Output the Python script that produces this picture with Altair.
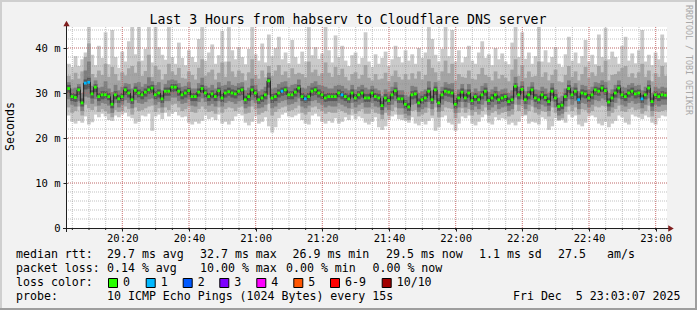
import json
import altair as alt
import pandas as pd

FONT = "DejaVu Sans Mono"
OX, OY = 67, 27  # plot origin inside the 697x310 canvas

# ---------------- texts ----------------
title_text = "Last 3 Hours from habserv to Cloudflare DNS server"
y_title = "Seconds"
watermark = "RRDTOOL / TOBI OETIKER"
x_major = ["20:20", "20:40", "21:00", "21:20", "21:40", "22:00", "22:20", "22:40", "23:00"]
y_ticks = [0, 10, 20, 30, 40]
y_labels = ["0\u00a0\u00a0", "10 m", "20 m", "30 m", "40 m"]
y_max = 44.67

rtt_head = "median rtt:"
rtt_stats = ["29.7 ms avg", "32.7 ms max", "26.9 ms min", "29.5 ms now", "1.1 ms sd", "27.5", "am/s"]
loss_head = "packet loss:"
loss_stats = ["0.14 % avg", "10.00 % max", "0.00 % min", "0.00 % now"]
color_head = "loss color:"
loss_labels = ["0", "1", "2", "3", "4", "5", "6-9", "10/10"]
loss_colors = ["#26ff00", "#00b8ff", "#0059ff", "#7e00ff", "#ff00ff", "#ff5500", "#ff0000", "#a10000"]
probe_head = "probe:"
probe_text = "10 ICMP Echo Pings (1024 Bytes) every 15s"
date_text = "Fri Dec\u00a0\u00a05 23:03:07 2025"

# ---------------- data: one value per minute, 20:03:24 .. 23:03:24 ----------------
med = [31.0, 29.2, 29.0, 30.7, 27.8, 32.2, 32.4, 29.8, 31.3, 29.2,
       29.6, 29.6, 29.2, 27.5, 29.6, 28.7, 29.2, 30.7, 30.0, 28.5,
       30.6, 30.0, 29.6, 30.2, 30.7, 31.1, 29.6, 30.0, 28.7, 30.4,
       30.4, 31.3, 31.3, 30.4, 29.6, 30.0, 30.5, 29.2, 29.2, 30.2,
       31.0, 30.0, 29.2, 29.8, 29.2, 30.5, 28.9, 30.0, 30.3, 30.0,
       29.8, 30.4, 30.7, 28.5, 29.2, 30.7, 30.0, 28.5, 28.9, 29.6,
       32.7, 28.9, 29.2, 30.0, 30.4, 30.7, 29.6, 29.6, 30.2, 31.1,
       29.2, 28.7, 29.2, 30.4, 30.7, 30.0, 29.6, 28.9, 29.2, 29.2,
       29.2, 30.0, 29.6, 29.2, 28.7, 30.0, 28.9, 29.6, 30.0, 28.9,
       28.9, 30.0, 29.2, 28.9, 27.2, 28.9, 28.3, 29.6, 30.5, 28.7,
       28.7, 27.5, 26.9, 29.6, 29.8, 27.8, 28.5, 28.9, 30.4, 28.5,
       30.7, 27.8, 29.6, 30.4, 30.2, 30.0, 27.5, 28.9, 30.2, 28.9,
       30.0, 28.3, 29.2, 28.5, 29.6, 30.4, 28.3, 28.9, 29.6, 28.5,
       28.9, 29.2, 28.1, 28.5, 31.5, 29.6, 30.8, 28.5, 29.6, 30.7,
       28.9, 28.5, 29.6, 29.0, 28.1, 30.4, 28.9, 27.0, 27.3, 29.2,
       31.0, 29.6, 30.4, 28.5, 30.0, 29.8, 28.9, 29.6, 30.7, 30.4,
       31.1, 30.5, 28.0, 28.9, 30.0, 31.1, 29.6, 29.2, 30.0, 30.4,
       29.8, 30.0, 28.7, 29.6, 31.1, 28.1, 29.6, 29.2, 29.6, 29.5]

loss_steps = [5, 6, 64, 71, 82, 153, 172]  # minutes with 1 of 10 pings lost

p10 = [36.5, 35.8, 38.2, 36.0, 37.5, 39.0, 45.0, 38.5, 36.2, 40.5,
       37.8, 43.5, 36.4, 44.0, 38.0, 35.6, 39.2, 37.0, 41.5, 45.0,
       38.6, 45.0, 37.2, 39.8, 45.0, 36.8, 45.0, 40.2, 38.5, 37.4,
       45.0, 38.0, 36.5, 41.2, 37.8, 36.2, 39.5, 38.0, 36.9, 42.0,
       45.0, 37.2, 39.0, 40.8, 36.5, 38.4, 43.8, 37.0, 45.0, 39.5,
       37.5, 40.2, 38.0, 36.4, 39.8, 45.0, 38.6, 37.2, 41.0, 36.8,
       43.0, 38.2, 40.0, 42.5, 37.5, 39.0, 36.6, 41.8, 38.0, 36.5,
       39.2, 37.0, 45.0, 38.4, 40.2, 37.6, 38.8, 45.0, 39.5, 36.8,
       42.8, 38.0, 40.5, 37.2, 36.0, 38.4, 39.0, 36.5, 37.8, 43.5,
       37.0, 35.8, 38.6, 36.5, 37.8, 39.2, 36.0, 37.5, 40.5, 38.0,
       36.8, 39.5, 37.2, 38.6, 36.5, 40.0, 37.8, 39.0, 45.0, 42.0,
       38.5, 37.0, 39.8, 45.0, 38.2, 44.0, 37.0, 39.5, 36.8, 38.0,
       40.5, 37.2, 36.5, 39.0, 41.5, 37.8, 38.6, 36.2, 40.0, 37.5,
       38.8, 37.0, 36.4, 41.2, 45.0, 38.0, 43.5, 37.6, 39.0, 36.5,
       38.2, 45.0, 37.0, 39.5, 36.8, 38.0, 40.2, 36.5, 35.8, 38.6,
       42.5, 37.2, 39.0, 36.6, 38.2, 41.8, 37.0, 38.5, 36.4, 43.0,
       38.0, 44.5, 37.5, 39.2, 38.0, 36.5, 40.5, 42.5, 37.2, 38.8,
       36.6, 39.5, 44.0, 37.0, 38.5, 36.2, 39.0, 37.5, 43.0, 36.8]

p9 = [33.8, 33.0, 34.5, 33.2, 34.8, 38.0, 41.0, 34.2, 33.5, 35.0,
      34.0, 36.5, 33.6, 35.8, 34.2, 32.8, 34.6, 33.9, 35.5, 36.0,
      34.5, 37.0, 33.8, 34.9, 38.5, 33.6, 36.0, 35.2, 33.0, 34.2,
      36.5, 34.8, 34.0, 35.6, 33.4, 33.2, 34.8, 34.0, 33.0, 35.6,
      37.5, 33.8, 34.6, 35.2, 33.0, 34.5, 36.8, 33.6, 37.0, 34.8,
      33.6, 35.0, 34.4, 32.8, 34.6, 37.5, 34.0, 33.2, 35.0, 33.5,
      36.0, 33.8, 35.0, 36.2, 34.0, 34.8, 33.4, 35.5, 34.2, 34.5,
      34.2, 33.5, 37.0, 34.6, 35.2, 33.8, 34.4, 36.8, 34.5, 33.6,
      35.8, 34.0, 35.4, 33.6, 32.8, 34.2, 34.6, 33.2, 34.0, 36.2,
      33.4, 32.8, 34.2, 33.0, 33.2, 34.5, 32.6, 33.8, 35.0, 33.6,
      33.0, 34.2, 33.0, 34.4, 33.2, 34.8, 33.0, 34.0, 37.5, 35.6,
      34.6, 32.8, 34.8, 37.2, 34.4, 36.5, 32.8, 34.2, 33.6, 33.4,
      35.0, 33.2, 33.0, 34.2, 35.6, 34.0, 33.6, 32.8, 34.8, 33.2,
      34.0, 33.4, 32.6, 35.2, 37.5, 33.8, 36.2, 33.4, 34.8, 33.6,
      33.8, 37.0, 33.6, 34.6, 32.8, 34.0, 35.2, 32.6, 32.4, 34.0,
      36.0, 33.6, 34.8, 32.8, 34.2, 35.8, 33.4, 34.6, 33.8, 36.0,
      34.6, 37.2, 32.8, 34.0, 34.2, 34.8, 35.6, 36.0, 33.6, 34.4,
      33.4, 34.6, 36.5, 33.6, 35.0, 32.6, 34.4, 33.6, 36.0, 33.8]

p8 = [32.4, 31.0, 31.2, 32.0, 30.0, 35.0, 37.0, 31.6, 32.8, 31.2,
      31.4, 32.6, 31.0, 30.2, 31.8, 30.6, 31.4, 32.2, 32.0, 31.0,
      32.2, 32.4, 31.4, 32.0, 33.5, 32.6, 31.8, 32.4, 30.6, 32.0,
      32.8, 33.0, 32.8, 32.2, 31.4, 31.6, 32.4, 31.0, 31.0, 32.2,
      33.4, 31.6, 31.2, 31.8, 31.0, 32.4, 31.6, 31.8, 32.6, 31.8,
      31.6, 32.2, 32.4, 30.6, 31.2, 33.2, 31.8, 30.4, 30.8, 31.4,
      34.5, 31.0, 31.2, 32.0, 32.4, 32.6, 31.4, 31.8, 32.0, 33.0,
      31.2, 31.0, 31.6, 32.2, 32.6, 31.8, 31.6, 31.4, 31.0, 31.0,
      31.6, 31.8, 31.6, 31.0, 30.6, 31.8, 30.8, 31.4, 31.8, 31.2,
      30.8, 31.6, 31.0, 30.6, 29.4, 30.8, 30.2, 31.4, 32.4, 30.6,
      30.6, 29.6, 29.2, 31.6, 31.4, 30.0, 30.4, 30.8, 32.6, 30.6,
      32.4, 29.8, 31.4, 32.4, 32.0, 32.2, 29.6, 30.8, 32.0, 30.8,
      32.0, 30.2, 31.0, 30.4, 31.6, 32.2, 30.2, 30.8, 31.4, 30.4,
      30.8, 31.0, 30.0, 30.6, 33.6, 31.4, 32.6, 30.4, 31.4, 32.4,
      30.8, 30.6, 31.4, 31.0, 30.0, 32.2, 30.8, 29.0, 29.4, 31.0,
      32.8, 31.4, 32.2, 30.4, 31.8, 31.6, 30.8, 31.4, 32.4, 32.2,
      32.8, 32.4, 30.0, 30.8, 31.8, 32.8, 31.4, 31.2, 31.8, 32.2,
      31.6, 31.8, 30.6, 31.4, 32.8, 30.0, 31.4, 31.0, 31.4, 31.2]

p7 = [31.8, 30.0, 29.8, 31.4, 28.8, 33.0, 33.4, 30.6, 32.0, 30.0,
      30.4, 30.4, 30.0, 28.4, 30.4, 29.6, 30.0, 31.4, 30.8, 29.4,
      31.4, 30.8, 30.4, 31.0, 31.6, 31.8, 30.4, 30.8, 29.6, 31.2,
      31.2, 32.0, 32.0, 31.2, 30.4, 30.8, 31.2, 30.0, 30.0, 31.0,
      31.8, 30.8, 30.0, 30.6, 30.0, 31.2, 29.8, 30.8, 31.2, 30.8,
      30.6, 31.2, 31.4, 29.4, 30.0, 31.6, 30.8, 29.4, 29.6, 30.4,
      33.4, 29.8, 30.0, 30.8, 31.2, 31.4, 30.4, 30.4, 31.0, 31.8,
      30.0, 29.6, 30.0, 31.2, 31.4, 30.8, 30.4, 29.8, 30.0, 30.0,
      30.0, 30.8, 30.4, 30.0, 29.6, 30.8, 29.8, 30.4, 30.8, 29.8,
      29.8, 30.8, 30.0, 29.8, 28.2, 29.8, 29.2, 30.4, 31.2, 29.6,
      29.6, 28.4, 27.8, 30.4, 30.6, 28.8, 29.4, 29.8, 31.2, 29.4,
      31.4, 28.8, 30.4, 31.2, 31.0, 30.8, 28.4, 29.8, 31.0, 29.8,
      30.8, 29.2, 30.0, 29.4, 30.4, 31.2, 29.2, 29.8, 30.4, 29.4,
      29.8, 30.0, 29.0, 29.4, 32.2, 30.4, 31.6, 29.4, 30.4, 31.4,
      29.8, 29.4, 30.4, 29.8, 29.0, 31.2, 29.8, 27.8, 28.2, 30.0,
      31.8, 30.4, 31.2, 29.4, 30.8, 30.6, 29.8, 30.4, 31.4, 31.2,
      31.8, 31.2, 28.8, 29.8, 30.8, 31.8, 30.4, 30.0, 30.8, 31.2,
      30.6, 30.8, 29.6, 30.4, 31.8, 29.0, 30.4, 30.0, 30.4, 30.2]

p4 = [30.0, 28.2, 28.0, 29.6, 27.0, 30.8, 31.0, 28.8, 30.2, 28.2,
      28.6, 28.8, 28.4, 26.6, 28.6, 27.8, 28.2, 29.6, 29.0, 27.6,
      29.6, 29.0, 28.6, 29.2, 29.8, 30.0, 28.6, 29.0, 27.8, 29.4,
      29.4, 30.2, 30.4, 29.4, 28.6, 29.0, 29.6, 28.2, 28.2, 29.2,
      30.0, 29.0, 28.2, 28.8, 28.2, 29.4, 28.0, 29.0, 29.4, 29.0,
      28.8, 29.4, 29.6, 27.6, 28.2, 29.6, 29.0, 27.6, 28.0, 28.6,
      31.2, 27.8, 28.2, 29.0, 29.4, 29.6, 28.6, 28.6, 29.2, 30.0,
      28.2, 27.8, 28.2, 29.4, 29.6, 29.0, 28.6, 28.0, 28.2, 28.2,
      28.2, 29.0, 28.6, 28.2, 27.8, 29.0, 28.0, 28.6, 29.0, 28.0,
      28.0, 29.0, 28.2, 28.0, 26.2, 28.0, 27.4, 28.6, 29.4, 27.8,
      27.8, 26.6, 26.0, 28.6, 28.8, 26.8, 27.6, 28.0, 29.4, 27.6,
      29.6, 26.8, 28.6, 29.4, 29.2, 29.0, 26.6, 28.0, 29.2, 28.0,
      29.0, 27.4, 28.2, 27.6, 28.6, 29.4, 27.4, 28.0, 28.6, 27.6,
      28.0, 28.2, 27.2, 27.6, 30.4, 28.6, 29.8, 27.6, 28.6, 29.6,
      28.0, 27.6, 28.6, 28.2, 27.2, 29.4, 28.0, 26.0, 26.4, 28.2,
      30.0, 28.6, 29.4, 27.6, 29.0, 28.8, 28.0, 28.6, 29.6, 29.4,
      30.2, 29.6, 27.0, 28.0, 29.0, 30.0, 28.6, 28.2, 29.0, 29.4,
      28.8, 29.0, 27.8, 28.6, 30.0, 27.0, 28.6, 28.2, 28.6, 28.6]

p3 = [28.6, 27.4, 27.0, 28.2, 26.0, 29.2, 29.0, 27.6, 28.6, 27.2,
      27.8, 27.6, 27.2, 25.6, 27.8, 26.8, 27.4, 28.4, 27.8, 26.6,
      28.4, 27.8, 27.6, 28.0, 28.6, 28.8, 27.4, 28.0, 26.8, 28.2,
      28.2, 29.0, 29.0, 28.2, 27.6, 27.8, 28.6, 27.2, 27.0, 28.0,
      28.8, 28.0, 27.2, 27.6, 27.0, 28.2, 27.0, 27.8, 28.2, 28.0,
      27.6, 28.2, 28.4, 26.6, 27.0, 28.4, 27.8, 26.6, 26.8, 27.4,
      29.6, 26.6, 27.0, 27.8, 28.2, 28.4, 27.4, 27.6, 28.0, 28.8,
      27.0, 26.6, 27.2, 28.2, 28.4, 27.8, 27.4, 26.8, 27.2, 27.0,
      27.0, 27.8, 27.4, 27.0, 26.6, 27.8, 26.8, 27.4, 27.8, 26.8,
      26.8, 27.8, 27.0, 26.8, 25.2, 26.8, 26.2, 27.4, 28.2, 26.6,
      26.6, 25.4, 25.0, 27.4, 27.6, 25.8, 26.4, 26.8, 28.0, 26.4,
      28.4, 25.8, 27.4, 28.2, 28.0, 27.8, 25.6, 26.8, 28.0, 26.8,
      27.8, 26.2, 27.0, 26.4, 27.4, 28.2, 26.2, 26.8, 27.4, 26.4,
      26.8, 27.0, 26.0, 26.4, 29.0, 27.4, 28.6, 26.4, 27.4, 28.4,
      26.8, 26.4, 27.4, 27.0, 26.0, 28.2, 26.8, 25.0, 25.4, 27.0,
      28.6, 27.4, 28.2, 26.4, 27.8, 27.6, 26.8, 27.4, 28.4, 28.2,
      28.8, 28.4, 26.0, 26.8, 27.8, 28.8, 27.4, 27.0, 27.8, 28.2,
      27.6, 27.8, 26.6, 27.4, 28.8, 26.0, 27.4, 27.0, 27.4, 27.4]

p2 = [26.8, 25.6, 26.0, 27.0, 25.0, 27.4, 26.6, 26.2, 27.0, 25.8,
      26.4, 26.0, 25.4, 24.6, 26.2, 25.8, 26.0, 27.0, 26.4, 25.2,
      26.8, 26.0, 26.2, 26.6, 27.0, 27.2, 25.8, 26.6, 25.6, 26.8,
      26.2, 27.4, 27.6, 26.8, 26.0, 26.4, 27.0, 25.8, 25.6, 26.4,
      27.0, 26.4, 25.8, 26.0, 25.4, 26.8, 25.6, 26.4, 26.8, 26.6,
      26.0, 26.8, 27.0, 25.4, 25.6, 27.0, 26.4, 25.2, 25.6, 26.0,
      27.6, 25.0, 25.8, 26.4, 26.8, 27.0, 26.0, 26.2, 26.6, 27.2,
      25.6, 25.2, 25.8, 26.8, 27.0, 26.4, 26.0, 25.4, 25.8, 25.6,
      25.6, 26.4, 26.0, 25.6, 25.2, 26.4, 25.4, 26.0, 26.4, 25.4,
      25.4, 26.4, 25.6, 25.4, 24.2, 25.6, 25.0, 26.0, 26.8, 25.2,
      25.2, 24.4, 24.0, 26.0, 26.2, 24.8, 25.2, 25.6, 26.6, 25.0,
      26.8, 24.6, 26.0, 26.8, 26.6, 26.4, 24.4, 25.6, 26.6, 25.6,
      26.4, 25.0, 25.8, 25.2, 26.0, 26.8, 25.0, 25.6, 26.0, 25.2,
      25.6, 25.8, 24.8, 25.2, 27.4, 26.0, 27.0, 25.2, 26.0, 27.0,
      25.6, 25.2, 26.0, 25.8, 24.8, 26.8, 25.6, 24.0, 24.4, 25.8,
      27.0, 26.0, 26.8, 25.2, 26.4, 26.2, 25.6, 26.0, 27.0, 26.8,
      27.2, 27.0, 24.8, 25.6, 26.4, 27.2, 26.0, 25.8, 26.4, 26.8,
      26.2, 26.4, 25.4, 26.0, 27.2, 24.8, 26.0, 25.8, 26.0, 26.2]

p1 = [25.0, 23.6, 23.2, 23.8, 23.4, 24.8, 23.0, 23.5, 25.2, 24.6,
      25.4, 24.8, 24.0, 23.8, 25.0, 24.6, 25.2, 25.6, 24.8, 24.4,
      23.2, 23.6, 25.0, 24.8, 25.4, 21.6, 24.8, 25.2, 24.2, 25.6,
      24.8, 25.4, 25.8, 25.0, 24.6, 24.8, 23.4, 23.0, 23.6, 23.2,
      23.8, 25.0, 24.2, 24.6, 24.0, 25.2, 23.2, 23.6, 23.0, 23.8,
      24.8, 25.4, 25.0, 23.4, 22.8, 23.6, 24.8, 23.2, 23.6, 24.6,
      22.6, 21.2, 22.4, 24.4, 25.2, 25.6, 24.8, 24.6, 25.0, 25.4,
      24.0, 23.2, 23.0, 25.0, 25.4, 24.8, 23.6, 23.2, 23.8, 23.4,
      24.4, 23.2, 23.6, 24.6, 24.0, 25.0, 24.2, 24.8, 24.4, 23.4,
      23.0, 23.6, 24.6, 22.4, 21.8, 22.6, 24.0, 24.8, 25.2, 24.2,
      24.0, 23.8, 23.4, 24.6, 23.2, 22.8, 23.6, 23.0, 23.8, 24.4,
      21.6, 22.4, 24.6, 25.0, 23.4, 23.0, 21.6, 23.2, 24.8, 24.4,
      25.0, 23.2, 22.8, 23.6, 24.6, 25.2, 23.4, 23.0, 24.6, 24.0,
      24.4, 24.2, 23.0, 23.4, 22.8, 23.6, 24.8, 25.0, 23.2, 23.6,
      23.4, 23.0, 24.6, 24.2, 21.8, 22.6, 24.4, 23.8, 24.0, 23.4,
      25.2, 24.6, 25.0, 23.0, 22.6, 23.4, 24.8, 25.0, 24.6, 23.2,
      22.8, 23.6, 22.4, 23.2, 23.8, 25.0, 24.6, 23.4, 23.0, 25.2,
      24.8, 24.6, 24.2, 25.0, 24.6, 23.4, 23.0, 24.4, 25.0, 24.8]

# ---------------- frame ----------------
start = pd.Timestamp("2025-12-05 20:03:24")


def iso(ts):
    return ts.strftime("%Y-%m-%dT%H:%M:%SZ")


n = len(med)
df = pd.DataFrame({
    "t0": [iso(start + pd.Timedelta(seconds=60 * i)) for i in range(n)],
    "t1": [iso(start + pd.Timedelta(seconds=60 * i + 68)) for i in range(n)],
    "tc": [iso(start + pd.Timedelta(seconds=60 * i + 30)) for i in range(n)],
    "med": med, "p1": p1, "p2": p2, "p3": p3, "p4": p4,
    "p7": p7, "p8": p8, "p9": p9, "p10": p10,
    "loss": ["1" if i in loss_steps else "0" for i in range(n)],
})

minor_times = [iso(pd.Timestamp("2025-12-05 20:05") + pd.Timedelta(minutes=5 * k)) for k in range(36)]
major_times = [f"2025-12-05T{s}:00Z" for s in x_major]
minor_df = pd.DataFrame({"t": minor_times})
major_df = pd.DataFrame({"t": major_times})
hminor_df = pd.DataFrame({"v": list(range(2, 45, 2))})
hmajor_df = pd.DataFrame({"v": y_ticks[1:]})

xscale = alt.Scale(type="utc",
                   domain=[alt.DateTime(year=2025, month=12, date=5, hours=20, minutes=3, seconds=24, utc=True),
                           alt.DateTime(year=2025, month=12, date=5, hours=23, minutes=3, seconds=24, utc=True)])
yscale = alt.Scale(domain=[0, y_max], nice=False, zero=False)

xaxis = alt.Axis(
    title=None, grid=False, domain=False, format="%H:%M",
    values=[alt.DateTime(year=2025, month=12, date=5, hours=int(s[:2]), minutes=int(s[3:]), utc=True) for s in x_major],
    labelFont=FONT, labelFontSize=10.5, labelColor="#000000", labelFlush=False, labelOverlap=False,
    tickSize=3, tickColor="#1f1f1f", labelPadding=2)
ylabel_expr = "[" + ",".join(json.dumps(s, ensure_ascii=False) for s in y_labels) + "][round(datum.value/10)]"
yaxis = alt.Axis(
    title=None, grid=False, domain=False, values=y_ticks, labelExpr=ylabel_expr,
    labelFont=FONT, labelFontSize=10.5, labelColor="#000000", labelFlush=False,
    tickSize=4, tickColor="#1f1f1f", labelPadding=3)

X0 = alt.X("t0:T", scale=xscale, axis=xaxis)
X1 = alt.X2("t1:T")

base = alt.Chart(df)


def band(lo, hi, color):
    return base.mark_rect(color=color, clip=True).encode(
        x=X0, x2=X1, y=alt.Y(f"{lo}:Q", scale=yscale, axis=yaxis), y2=alt.Y2(f"{hi}:Q"))


layers = [
    band("p1", "p10", "#cacaca"),
    band("p2", "p9", "#a4a4a4"),
    band("p3", "p8", "#7e7e7e"),
    band("p4", "p7", "#585858"),
    alt.Chart(minor_df).mark_rule(color="#8f8f8f", opacity=0.55, strokeDash=[1, 1], strokeWidth=1).encode(
        x=alt.X("t:T", scale=xscale, axis=xaxis)),
    alt.Chart(hminor_df).mark_rule(color="#8f8f8f", opacity=0.55, strokeDash=[1, 1], strokeWidth=1).encode(
        y=alt.Y("v:Q", scale=yscale, axis=yaxis)),
    alt.Chart(major_df).mark_rule(color="#de4f4f", opacity=0.6, strokeDash=[1, 1], strokeWidth=1).encode(
        x=alt.X("t:T", scale=xscale, axis=xaxis)),
    alt.Chart(hmajor_df).mark_rule(color="#de4f4f", opacity=0.6, strokeDash=[1, 1], strokeWidth=1).encode(
        y=alt.Y("v:Q", scale=yscale, axis=yaxis)),
    base.mark_line(interpolate="step", color="#1c1c1c", strokeWidth=1, clip=True).encode(
        x=alt.X("tc:T", scale=xscale, axis=xaxis), y=alt.Y("med:Q", scale=yscale, axis=yaxis)),
    base.mark_square(size=8, opacity=1, clip=True).encode(
        x=alt.X("tc:T", scale=xscale, axis=xaxis), y=alt.Y("med:Q", scale=yscale, axis=yaxis),
        color=alt.Color("loss:N", scale=alt.Scale(domain=["0", "1"], range=loss_colors[:2]), legend=None)),
    # minor ticks on the time axis
    alt.Chart(minor_df).mark_rule(color="#1f1f1f").encode(
        x=alt.X("t:T", scale=xscale, axis=xaxis), y=alt.value(201), y2=alt.value(203)),
]

one = pd.DataFrame({"a": [0]})


def rule(x, x2, y, y2, color, width=1):
    return alt.Chart(one).mark_rule(color=color, strokeWidth=width).encode(
        x=alt.value(x - OX), x2=alt.value(x2 - OX), y=alt.value(y - OY), y2=alt.value(y2 - OY))


def rect(x, x2, y, y2, fill, stroke=None):
    kw = {"stroke": stroke, "strokeWidth": 1} if stroke else {"strokeWidth": 0}
    return alt.Chart(one).mark_rect(**kw).encode(
        x=alt.value(x - OX), x2=alt.value(x2 - OX), y=alt.value(y - OY), y2=alt.value(y2 - OY),
        fill=alt.value(fill))


def text(s, x, y, size=11.6, align="left", baseline="alphabetic", angle=0, color="#000000"):
    return alt.Chart(pd.DataFrame({"s": [s]})).mark_text(
        font=FONT, fontSize=size, align=align, baseline=baseline, angle=angle, color=color).encode(
        text="s:N", x=alt.value(x - OX), y=alt.value(y - OY))


# axes lines and arrows
layers += [
    rule(63, 672, 228.5, 228.5, "#1f1f1f"),
    rule(66.5, 66.5, 232, 22, "#1f1f1f"),
    alt.Chart(one).mark_point(shape="triangle-up", filled=True, size=40, color="#801f1f", opacity=1).encode(
        x=alt.value(66.5 - OX), y=alt.value(23.5 - OY)),
    alt.Chart(one).mark_point(shape="triangle-right", filled=True, size=40, color="#801f1f", opacity=1).encode(
        x=alt.value(671 - OX), y=alt.value(228.5 - OY)),
]

# frame shading
layers += [
    rect(0, 697, 0, 2, "#cfcfcf"),
    rect(0, 2, 0, 310, "#cfcfcf"),
    rect(695, 697, 0, 310, "#9e9e9e"),
    rect(0, 697, 308, 310, "#9e9e9e"),
]

# texts
layers += [
    text(title_text, 348, 23.7, size=13.2, align="center"),
    text(y_title, 11, 126.5, size=11.6, align="center", baseline="middle", angle=270),
    text(watermark, 688, 60, size=8.3, align="center", baseline="middle", angle=90, color="#a8a8a8"),
]

rtt_x = [107, 200, 292.5, 386, 479, 558, 607]
loss_x = [107, 200, 286, 372.5]
sq_x = [108, 145.7, 182.7, 219.3, 256.3, 293.3, 330, 381.7]

layers.append(text(rtt_head, 16, 258.3))
for s, x in zip(rtt_stats, rtt_x):
    layers.append(text(s, x, 258.3))
layers.append(text(loss_head, 16, 272.3))
for s, x in zip(loss_stats, loss_x):
    layers.append(text(s, x, 272.3))
layers.append(text(color_head, 16, 286.3))
for lab, col, x in zip(loss_labels, loss_colors, sq_x):
    layers.append(rect(x + 0.5, x + 9.5, 278.5, 287.5, col, stroke="#000000"))
    layers.append(text(lab, x + 15, 286.3))
layers.append(text(probe_head, 16, 300.2))
layers.append(text(probe_text, 107, 300.2))
layers.append(text(date_text, 680.5, 300.2, align="right"))

chart = alt.layer(*layers).properties(
    width=600, height=201,
    autosize=alt.AutoSizeParams(type="none"),
    padding={"left": OX, "top": OY, "right": 697 - OX - 600, "bottom": 310 - OY - 201},
    background="#f2f2f2",
).configure_view(fill="#ffffff", stroke=None)

chart.save("out.html", embed_options={"renderer": "svg", "actions": False})
